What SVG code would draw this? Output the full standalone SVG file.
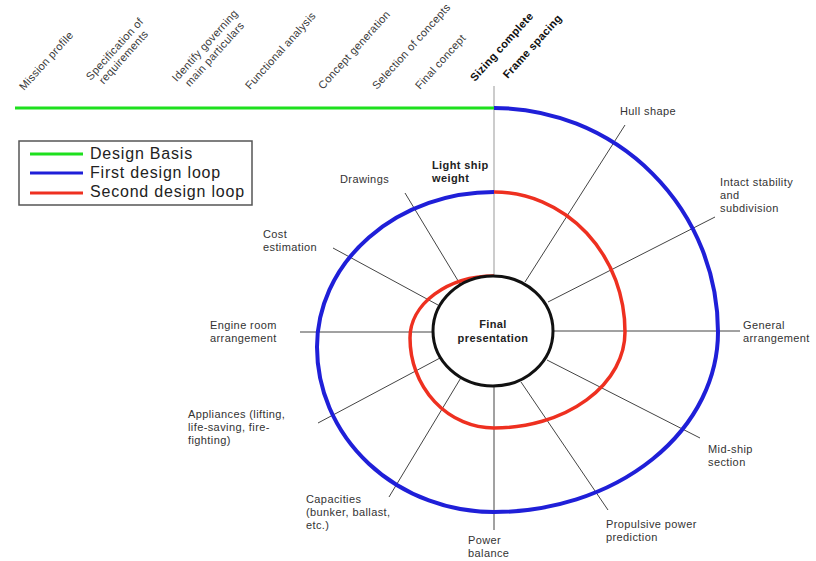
<svg xmlns="http://www.w3.org/2000/svg" width="816" height="561" viewBox="0 0 816 561">
<style>
text{font-family:"Liberation Sans",Arial,sans-serif;fill:#333}
.top{font-size:11px;letter-spacing:0.3px;text-anchor:middle;fill:#3a3a3a}
.topb{font-size:11px;letter-spacing:0.3px;text-anchor:middle;font-weight:bold;fill:#111}
.lbl{font-size:11px;letter-spacing:0.4px}
.bold{font-size:11px;letter-spacing:0.4px;font-weight:bold;fill:#222}
.leg{font-size:16px;letter-spacing:0.8px;fill:#222}
.spoke{stroke:#444;stroke-width:1;fill:none}
</style>
<rect width="816" height="561" fill="#fff"/>

<g id="timeline-labels">
  <g id="t-mission" transform="translate(49,63.2) rotate(-48)"><text class="top">Mission profile</text></g>
  <g id="t-spec" transform="translate(117.4,51.5) rotate(-48)"><text class="top">Specification of<tspan x="0" dy="12">requirements</tspan></text></g>
  <g id="t-identify" transform="translate(207.7,47.9) rotate(-48)"><text class="top">Identify governing<tspan x="0" dy="13">main particulars</tspan></text></g>
  <g id="t-functional" transform="translate(283.2,53.1) rotate(-48)"><text class="top">Functional analysis</text></g>
  <g id="t-concept" transform="translate(356.9,52.3) rotate(-48)"><text class="top">Concept generation</text></g>
  <g id="t-selection" transform="translate(414.1,48.8) rotate(-48)"><text class="top">Selection of concepts</text></g>
  <g id="t-final" transform="translate(443.2,64.2) rotate(-48)"><text class="top">Final concept</text></g>
  <g id="t-sizing" transform="translate(504.5,49.2) rotate(-48)"><text class="topb">Sizing complete</text></g>
  <g id="t-frame" transform="translate(535.1,48.8) rotate(-48)"><text class="topb">Frame spacing</text></g>
</g>

<g id="legend">
  <rect x="19" y="141" width="233" height="64" fill="#fff" stroke="#555" stroke-width="1.5"/>
  <line x1="30" y1="154" x2="83" y2="154" stroke="#1ee01e" stroke-width="3"/>
  <line x1="30" y1="173" x2="83" y2="173" stroke="#1f1fd8" stroke-width="3"/>
  <line x1="30" y1="193" x2="83" y2="193" stroke="#ee3020" stroke-width="3"/>
  <text class="leg" x="90" y="159">Design Basis</text>
  <text class="leg" x="90" y="178">First design loop</text>
  <text class="leg" x="90" y="197">Second design loop</text>
</g>

<g id="connectors">
  <line x1="494" y1="86" x2="494" y2="276" stroke="#999" stroke-width="1"/>
  <line class="spoke" x1="625" y1="125" x2="525" y2="282"/>
  <line class="spoke" x1="715" y1="217" x2="548" y2="302"/>
  <line class="spoke" x1="553" y1="331" x2="740" y2="331"/>
  <line class="spoke" x1="547" y1="360" x2="700" y2="438"/>
  <line class="spoke" x1="521" y1="382" x2="608" y2="510"/>
  <line class="spoke" x1="494" y1="386" x2="494" y2="530"/>
  <line class="spoke" x1="389" y1="497" x2="462" y2="376"/>
  <line class="spoke" x1="318" y1="423" x2="440" y2="358"/>
  <line class="spoke" x1="300" y1="332" x2="433" y2="332"/>
  <line class="spoke" x1="333" y1="248" x2="438" y2="305"/>
  <line class="spoke" x1="405" y1="193" x2="460" y2="284"/>
</g>

<g id="loops">
  <line id="design-basis" x1="15" y1="108" x2="494" y2="108" stroke="#1ee01e" stroke-width="3"/>
  <path id="first-loop" d="M494 108 A224 224 0 0 1 718 332 A224 180 0 0 1 494 512 A177 165 0 0 1 317 347 A177 155 0 0 1 494 192" fill="none" stroke="#1f1fd8" stroke-width="4"/>
  <path id="second-loop" d="M494 192 A131 140 0 0 1 625 332 A131 96 0 0 1 494 428 A84 90 0 0 1 410 338 A84 62 0 0 1 494 276" fill="none" stroke="#ee3020" stroke-width="3.5"/>
</g>

<g id="final-presentation">
  <ellipse cx="493" cy="331" rx="60" ry="55" fill="#fff" stroke="#111" stroke-width="3"/>
  <text class="bold" x="493" y="328" text-anchor="middle">Final</text>
  <text class="bold" x="493" y="342" text-anchor="middle">presentation</text>
</g>

<g id="n-lightship"><text class="bold" x="432" y="169">Light ship<tspan x="432" dy="13">weight</tspan></text></g>
<g id="n-hull"><text class="lbl" x="620" y="115">Hull shape</text></g>
<g id="n-intact"><text class="lbl" x="720" y="186">Intact stability<tspan x="720" dy="13">and</tspan><tspan x="720" dy="13">subdivision</tspan></text></g>
<g id="n-general"><text class="lbl" x="743" y="329">General<tspan x="743" dy="13">arrangement</tspan></text></g>
<g id="n-midship"><text class="lbl" x="708" y="453">Mid-ship<tspan x="708" dy="13">section</tspan></text></g>
<g id="n-propulsive"><text class="lbl" x="606" y="528">Propulsive  power<tspan x="606" dy="13">prediction</tspan></text></g>
<g id="n-power"><text class="lbl" x="468" y="544">Power<tspan x="468" dy="13">balance</tspan></text></g>
<g id="n-capacities"><text class="lbl" x="306" y="503">Capacities<tspan x="306" dy="13">(bunker, ballast,</tspan><tspan x="306" dy="13">etc.)</tspan></text></g>
<g id="n-appliances"><text class="lbl" x="188" y="418">Appliances (lifting,<tspan x="188" dy="13">life-saving,  fire-</tspan><tspan x="188" dy="13">fighting)</tspan></text></g>
<g id="n-engine"><text class="lbl" x="210" y="329">Engine room<tspan x="210" dy="13">arrangement</tspan></text></g>
<g id="n-cost"><text class="lbl" x="263" y="238">Cost<tspan x="263" dy="13">estimation</tspan></text></g>
<g id="n-drawings"><text class="lbl" x="340" y="183">Drawings</text></g>
</svg>
